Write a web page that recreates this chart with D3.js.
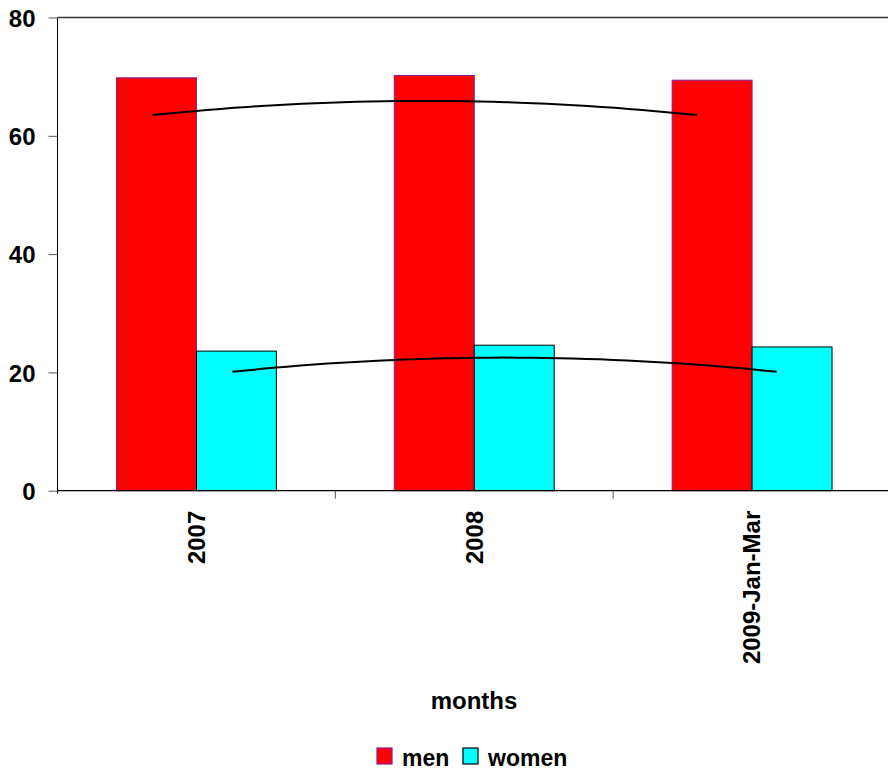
<!DOCTYPE html>
<html>
<head>
<meta charset="utf-8">
<script src="https://cdn.jsdelivr.net/npm/d3@7"></script>
<style>
  body { margin: 0; background: #fff; }
  text { font-family: Arial, "Liberation Sans", sans-serif; font-weight: bold; }
</style>
</head>
<body>
<script>
// data
const categories = ["2007", "2008", "2009-Jan-Mar"];
const series = ["men", "women"];
const menValues = [69.8, 70.2, 69.4];
const womenValues = [23.6, 24.6, 24.3];
const menTrend = [63.5, 65.9, 63.5];
const womenTrend = [20.1, 22.5, 20.1];
const yTicks = [0, 20, 40, 60, 80];

const width = 888;
const height = 776;
const marginTop = 17.5;
const marginLeft = 57.5;
const plotRight = 891;
const plotBottom = 490.7;
const FONT = 24;

const colors = { men: "#ff0000", women: "#00ffff" };
const strokes = { men: "#8b1a8b", women: "#000000" };

const svg = d3.select("body").append("svg")
  .attr("width", width)
  .attr("height", height);

const x = d3.scaleBand()
  .domain(categories)
  .range([marginLeft, plotRight])
  .paddingInner(0)
  .paddingOuter(0);

const xSub = d3.scaleBand()
  .domain(series)
  .range([0, x.bandwidth()])
  .paddingInner(0)
  .paddingOuter(0.7375);

const y = d3.scaleLinear()
  .domain([0, 80])
  .range([plotBottom, marginTop]);

// top border of plot area
svg.append("line")
  .attr("x1", marginLeft).attr("x2", plotRight)
  .attr("y1", y(80)).attr("y2", y(80))
  .attr("stroke", "#333").attr("stroke-width", 1.5);

// bars
const rows = categories.map((c, i) => ({ cat: c, men: menValues[i], women: womenValues[i] }));

const groups = svg.append("g").selectAll("g")
  .data(rows)
  .join("g")
  .attr("transform", d => "translate(" + x(d.cat) + ",0)");

groups.selectAll("rect")
  .data(d => series.map(s => ({ key: s, value: d[s] })))
  .join("rect")
  .attr("x", d => xSub(d.key))
  .attr("y", d => y(d.value))
  .attr("width", xSub.bandwidth())
  .attr("height", d => y(0) - y(d.value))
  .attr("fill", d => colors[d.key])
  .attr("stroke", d => strokes[d.key])
  .attr("stroke-width", 1);

// y axis
const yAxis = svg.append("g")
  .attr("transform", "translate(" + marginLeft + ",0)")
  .call(d3.axisLeft(y).tickValues(yTicks).tickSize(9).tickPadding(13).tickSizeOuter(0));
yAxis.select(".domain").attr("stroke", "#000").attr("d", "M0," + (y(80)) + "V" + (plotBottom + 3));
yAxis.selectAll(".tick line").attr("stroke", "#555");
yAxis.selectAll("text").attr("font-size", FONT).attr("fill", "#000").attr("dy", "0.36em");

// x axis
const xAxisG = svg.append("g")
  .attr("transform", "translate(0," + plotBottom + ")");
xAxisG.append("line")
  .attr("x1", marginLeft).attr("x2", plotRight)
  .attr("stroke", "#000").attr("stroke-width", 1.2);
xAxisG.selectAll(".xtick")
  .data(categories.slice(1))
  .join("line")
  .attr("class", "xtick")
  .attr("x1", d => x(d)).attr("x2", d => x(d))
  .attr("y1", 0).attr("y2", 8)
  .attr("stroke", "#555");
xAxisG.selectAll(".xlabel")
  .data(categories)
  .join("text")
  .attr("class", "xlabel")
  .attr("transform", d => "translate(" + (x(d) + x.bandwidth() / 2) + ",20) rotate(-90)")
  .attr("text-anchor", "end")
  .attr("dy", "0.35em")
  .attr("font-size", FONT)
  .attr("fill", "#000")
  .text(d => d);

// trend lines (quadratic through the three trend values)
function trendPoints(vals, key) {
  const start = x(categories[0]) + xSub(key) + xSub.bandwidth() / 2 - 4;
  const end = x(categories[2]) + xSub(key) + xSub.bandwidth() / 2 - 15.5;
  const t = d3.scaleLinear().domain([0, 2]).range([start, end]);
  const pts = [];
  for (let s = 0; s <= 2.0001; s += 0.05) {
    const v = vals[0] * (s - 1) * (s - 2) / 2 - vals[1] * s * (s - 2) + vals[2] * s * (s - 1) / 2;
    pts.push([t(s), y(v)]);
  }
  return pts;
}
const line = d3.line();
svg.append("path")
  .attr("d", line(trendPoints(menTrend, "men")))
  .attr("fill", "none").attr("stroke", "#000").attr("stroke-width", 2);
svg.append("path")
  .attr("d", line(trendPoints(womenTrend, "women")))
  .attr("fill", "none").attr("stroke", "#000").attr("stroke-width", 2);

// axis title
svg.append("text")
  .attr("x", 474).attr("y", 709)
  .attr("text-anchor", "middle")
  .attr("font-size", FONT)
  .text("months");

// legend
const legend = svg.append("g").attr("transform", "translate(377,748)");
const legendX = { men: 0, women: 86 };
const item = legend.selectAll("g")
  .data(series)
  .join("g")
  .attr("transform", d => "translate(" + legendX[d] + ",0)");
item.append("rect")
  .attr("width", 15).attr("height", 16)
  .attr("fill", d => colors[d])
  .attr("stroke", d => strokes[d]).attr("stroke-width", 1.2);
item.append("text")
  .attr("x", 25).attr("y", 17.5)
  .attr("font-size", 23)
  .text(d => d);
</script>
</body>
</html>
